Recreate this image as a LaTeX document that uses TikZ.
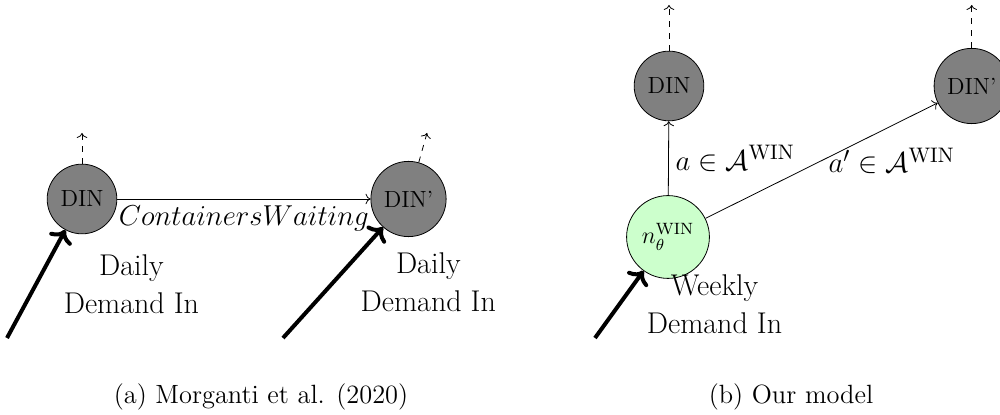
\documentclass[tikz,border=0pt]{standalone}
\usepackage{amsmath,amssymb}
\usepackage{tikz}
\usetikzlibrary{arrows.meta,positioning}
\definecolor{stgray}{HTML}{808080}
\definecolor{netgreen}{HTML}{CCFFCC}

\begin{document}
\begin{tikzpicture}[x=0.5pt, y=-0.5pt,
  st/.style={circle, draw, fill=stgray, inner sep=4.5pt, font=\fontsize{11.7}{14}\selectfont},
  nw/.style={st, fill=netgreen},
  e/.style={->},
  up/.style={->, dashed},
  dem/.style={->, line width=2pt},
  lb/.style={font=\fontsize{15}{19}\selectfont, align=center},
  captxt/.style={font=\fontsize{13.2}{16}\selectfont}]
\useasboundingbox (0,0) rectangle (1000,415);
% (a) daily states
\node[st] (din) at (82,199) {DIN};
\node[st] (dinp) at (408.5,199) {DIN'};
\coordinate (din-out) at (82,133);
\coordinate (dinp-out) at (427,133);
\coordinate (din-in) at (7,338);
\coordinate (dinp-in) at (283,338);
\draw[e] (din) -- node[lb, below] {$ContainersWaiting$} (dinp);
\draw[up] (din) -- (din-out); \draw[up] (dinp) -- (dinp-out);
\draw[dem] (din-in) -- node[lb, right, xshift=9.5pt] {Daily\\Demand In} (din);
\draw[dem] (dinp-in) -- node[lb, right, xshift=9.5pt] {Daily\\Demand In} (dinp);
\node[captxt] (cap-a) at (261,397) {(a) Morganti et al. (2020)};
% (b) weekly network
\node[nw] (net) at (668,237) {$n_\theta^{\text{WIN}}$};
\node[st] (din2) at (669,86) {DIN};
\node[st] (dinp2) at (971.7,86) {DIN'};
\coordinate (din2-out) at (669,5);
\coordinate (dinp2-out) at (971.7,5);
\coordinate (net-in) at (595,338);
\draw[e] (net) -- node[lb, right] {$a \in \mathcal{A}^{\text{WIN}}$} (din2);
\draw[e] (net) -- node[lb, right] {$a' \in \mathcal{A}^{\text{WIN}}$} (dinp2);
\draw[up] (din2) -- (din2-out); \draw[up] (dinp2) -- (dinp2-out);
\draw[dem] (net-in) -- node[lb, right, xshift=9.5pt] {Weekly\\Demand In} (net);
\node[captxt] (cap-b) at (791,397) {(b) Our model};
\end{tikzpicture}
\end{document}
